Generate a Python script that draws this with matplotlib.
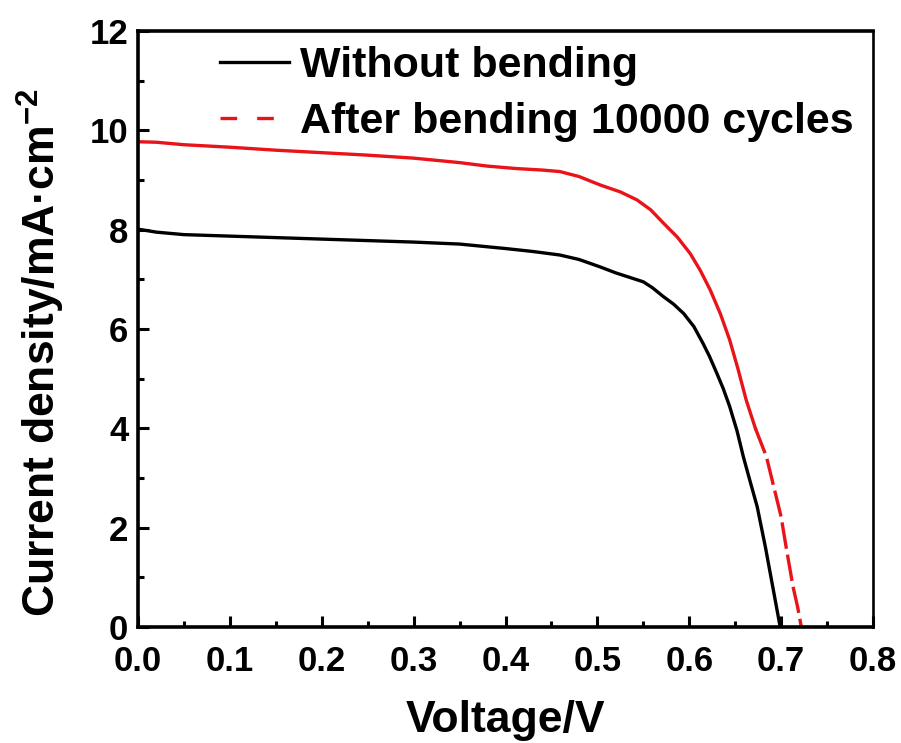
import numpy as np
import matplotlib
matplotlib.use("Agg")
import matplotlib.pyplot as plt
from matplotlib.lines import Line2D

plt.rcParams["font.family"] = ["Liberation Sans", "DejaVu Sans"]
plt.rcParams["font.weight"] = "bold"
plt.rcParams["mathtext.fontset"] = "custom"
plt.rcParams["mathtext.rm"] = "Liberation Sans:bold"
plt.rcParams["mathtext.default"] = "rm"

# J-V data
v_flat = [0.0, 0.02, 0.05, 0.1, 0.15, 0.2, 0.25, 0.3, 0.35, 0.4, 0.43, 0.459, 0.48,
          0.503, 0.52, 0.535, 0.55, 0.56, 0.572, 0.583, 0.594, 0.605, 0.615, 0.622,
          0.63, 0.637, 0.644, 0.652, 0.659, 0.666, 0.674, 0.683, 0.691, 0.699]
j_flat = [8.01, 7.95, 7.90, 7.87, 7.84, 7.81, 7.78, 7.75, 7.71, 7.62, 7.56, 7.49, 7.40,
          7.25, 7.13, 7.04, 6.95, 6.83, 6.65, 6.50, 6.31, 6.05, 5.71, 5.45,
          5.11, 4.80, 4.44, 3.95, 3.42, 2.95, 2.42, 1.60, 0.80, 0.0]

v_bent = [0.0, 0.02, 0.05, 0.1, 0.15, 0.2, 0.25, 0.3, 0.35, 0.38, 0.412, 0.44, 0.459,
          0.48, 0.503, 0.525, 0.543, 0.558, 0.572, 0.587, 0.601, 0.612, 0.623, 0.634,
          0.644, 0.653, 0.662, 0.672, 0.684, 0.70, 0.706, 0.713, 0.718, 0.722]
j_bent = [9.77, 9.76, 9.71, 9.66, 9.60, 9.55, 9.50, 9.44, 9.35, 9.28, 9.23, 9.20, 9.17,
          9.07, 8.90, 8.76, 8.60, 8.40, 8.13, 7.85, 7.52, 7.18, 6.78, 6.30,
          5.78, 5.20, 4.57, 4.0, 3.43, 2.22, 1.55, 0.81, 0.40, 0.0]
v_dash_from = 0.672

labels = ["Without bending", "After bending 10000 cycles"]

fig = plt.figure(figsize=(9.01, 7.43), dpi=100)
ax = fig.add_axes([0.1532, 0.1561, 0.8157, 0.8022])

vb = np.array(v_bent)
jb = np.array(j_bent)
ax.plot(v_flat, j_flat, color="black", lw=2.4)
m = vb <= v_dash_from
ax.plot(vb[m], jb[m], color="#e8141a", lw=2.4)
m2 = vb >= v_dash_from
ax.plot(vb[m2], jb[m2], color="#e8141a", lw=2.4, linestyle=(0, (8, 1.8)))

ax.set_xlim(0, 0.8)
ax.set_ylim(0, 12)
ax.set_xticks(np.arange(0, 0.81, 0.1))
ax.set_xticks(np.arange(0.05, 0.8, 0.1), minor=True)
ax.set_yticks(np.arange(0, 13, 2))
ax.set_yticks(np.arange(1, 12, 2), minor=True)
ax.set_xticklabels(["%.1f" % t for t in np.arange(0, 0.81, 0.1)])
ax.tick_params(which="both", direction="in", top=False, right=False,
               labelsize=25, width=2.2)
ax.tick_params(which="major", length=8)
ax.tick_params(which="minor", length=4.5)
ax.tick_params(axis="x", which="major", pad=13)
ax.tick_params(axis="y", which="major", pad=7)
for s in ["left", "bottom", "top"]:
    ax.spines[s].set_linewidth(2.6)
ax.spines["right"].set_linewidth(1.9)

ax.set_xlabel("Voltage/V", fontsize=32, fontweight="bold", labelpad=16)
ax.set_ylabel("Current density/mA\u00b7cm$^{-2}$", fontsize=32,
              fontweight="bold")
ax.yaxis.set_label_coords(-0.097, 0.461)

handles = [Line2D([], [], color="black", lw=2.4),
           Line2D([], [], color="#e8141a", lw=2.4, linestyle=(0, (5, 6)))]
ax.legend(handles, labels, loc="upper left", bbox_to_anchor=(0.088, 1.004),
          frameon=False, fontsize=31, handlelength=1.6, handletextpad=0.25,
          labelspacing=0.38, borderaxespad=0)

fig.savefig("out.png", dpi=100)
